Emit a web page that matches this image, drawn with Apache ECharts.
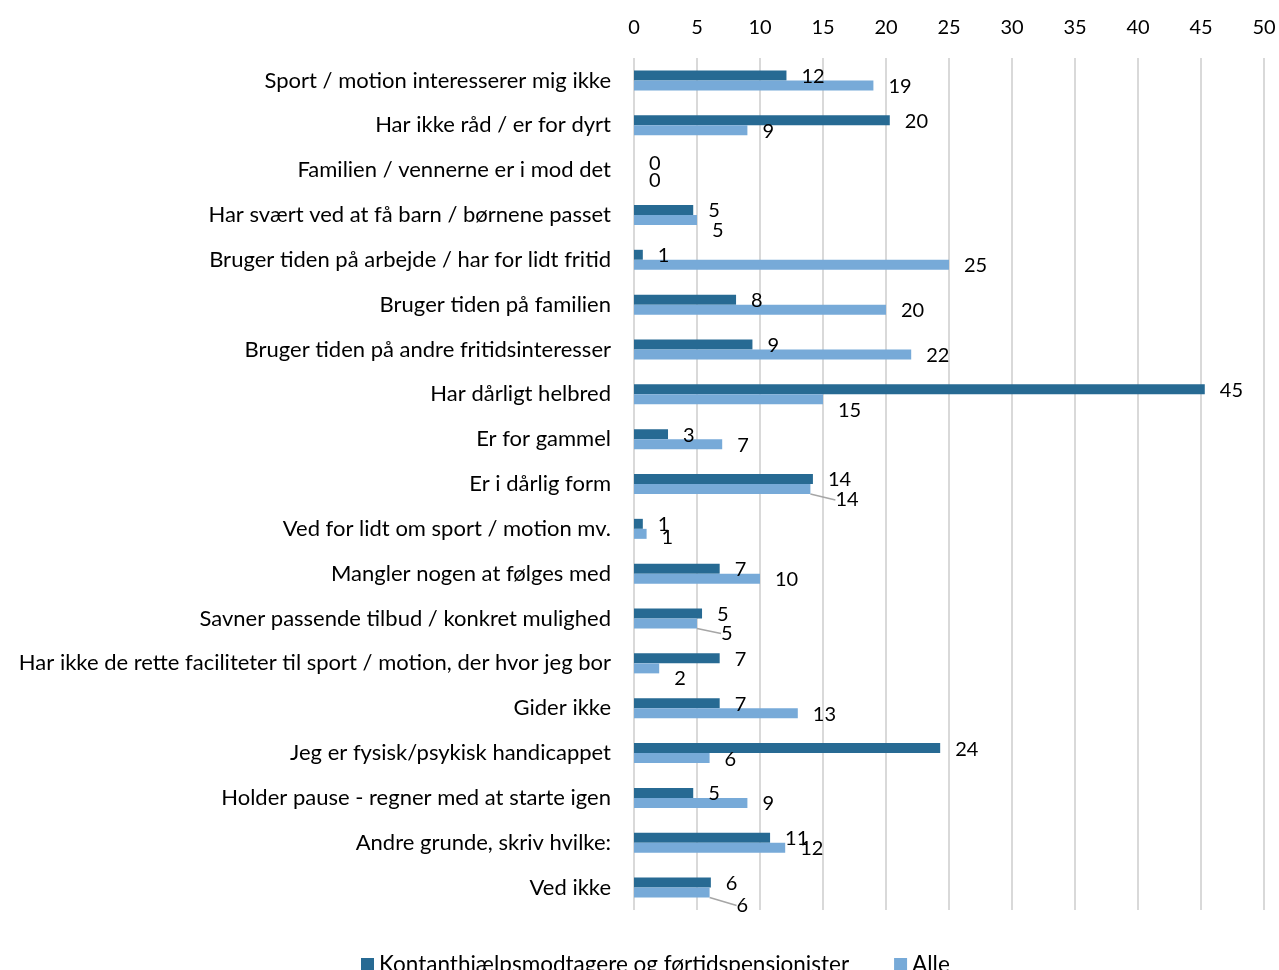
<!DOCTYPE html>
<html>
<head>
<meta charset="utf-8">
<script src="https://cdn.jsdelivr.net/npm/echarts@6/dist/echarts.min.js"></script>
<style>
html,body{margin:0;padding:0;background:#fff;}
#chart{width:1279px;height:970px;}
</style>
</head>
<body>
<div id="chart"></div>
<script>
const categories = [
  "Sport / motion interesserer mig ikke",
  "Har ikke råd / er for dyrt",
  "Familien / vennerne er i mod det",
  "Har svært ved at få barn / børnene passet",
  "Bruger tiden på arbejde / har for lidt fritid",
  "Bruger tiden på familien",
  "Bruger tiden på andre fritidsinteresser",
  "Har dårligt helbred",
  "Er for gammel",
  "Er i dårlig form",
  "Ved for lidt om sport / motion mv.",
  "Mangler nogen at følges med",
  "Savner passende tilbud / konkret mulighed",
  "Har ikke de rette faciliteter til sport / motion, der hvor jeg bor",
  "Gider ikke",
  "Jeg er fysisk/psykisk handicappet",
  "Holder pause - regner med at starte igen",
  "Andre grunde, skriv hvilke:",
  "Ved ikke"
];
const seriesNames = ["Kontanthjælpsmodtagere og førtidspensionister", "Alle"];
const kontanthjaelp = [12.1, 20.3, 0, 4.7, 0.7, 8.1, 9.4, 45.3, 2.7, 14.2, 0.7, 6.8, 5.4, 6.8, 6.8, 24.3, 4.7, 10.8, 6.1];
const alle = [19.0, 9.0, 0, 5.0, 25.0, 20.0, 22.0, 15.0, 7.0, 14.0, 1.0, 10.0, 5.0, 2.0, 13.0, 6.0, 9.0, 12.0, 6.0];
const xTicks = { min: 0, max: 50, interval: 5 };

// label nudges (styling only), keyed by category index: [dx, dy, leaderLine]
const darkNudge = { 2: [0, -3, false] };
const lightNudge = {
  2: [0, 4, false], 3: [0, 10, false], 7: [0, 10, false], 9: [10, 10, true],
  10: [0, 3, false], 12: [9, 9, true], 13: [0, 9, false], 18: [12, 12, true]
};

const FONT = 'Lato';
const chart = echarts.init(document.getElementById('chart'), null, { renderer: 'canvas' });

function buildData(values, nudges) {
  return values.map((v, i) => {
    const n = nudges[i];
    return {
      value: v,
      labelLine: { show: !!(n && n[2]) }
    };
  });
}
function layoutFn(nudges, baseDy) {
  return function (p) {
    const n = nudges[p.dataIndex];
    return n ? { dx: n[0], dy: n[1] + baseDy } : { dy: baseDy };
  };
}

const labelCommon = {
  show: true,
  position: 'right',
  distance: 15,
  color: '#000',
  fontFamily: FONT,
  fontSize: 20,
  formatter: p => Math.round(p.value)
};

chart.setOption({
  animation: false,
  textStyle: { fontFamily: FONT },
  grid: { left: 634, right: 15, top: 58, bottom: 60, containLabel: false },
  legend: {
    data: seriesNames,
    left: 356,
    top: 948,
    icon: 'rect',
    itemWidth: 13,
    itemHeight: 13,
    itemGap: 45,
    textStyle: { fontFamily: FONT, fontSize: 22.5, color: '#000' }
  },
  xAxis: {
    type: 'value',
    position: 'top',
    min: xTicks.min, max: xTicks.max, interval: xTicks.interval,
    axisLine: { show: false },
    axisTick: { show: false },
    axisLabel: { fontFamily: FONT, fontSize: 20, color: '#000', margin: 20 },
    splitLine: { show: true, lineStyle: { color: '#d9d9d9', width: 2 } }
  },
  yAxis: {
    type: 'category',
    data: categories,
    inverse: true,
    axisLine: { show: false },
    axisTick: { show: false },
    axisLabel: { fontFamily: FONT, fontSize: 22, color: '#000', margin: 23 }
  },
  series: [
    {
      name: seriesNames[0],
      type: 'bar',
      data: buildData(kontanthjaelp, darkNudge),
      barWidth: 10,
      barGap: '0%',
      itemStyle: { color: '#276a93' },
      label: labelCommon,
      labelLayout: layoutFn(darkNudge, 1),
      labelLine: { lineStyle: { color: '#a6a6a6', width: 1.5 } }
    },
    {
      name: seriesNames[1],
      type: 'bar',
      data: buildData(alle, lightNudge),
      barWidth: 10,
      barGap: '0%',
      itemStyle: { color: '#77aad8' },
      label: labelCommon,
      labelLayout: layoutFn(lightNudge, 1),
      labelLine: { lineStyle: { color: '#a6a6a6', width: 1.5 } }
    }
  ]
});
</script>
</body>
</html>
